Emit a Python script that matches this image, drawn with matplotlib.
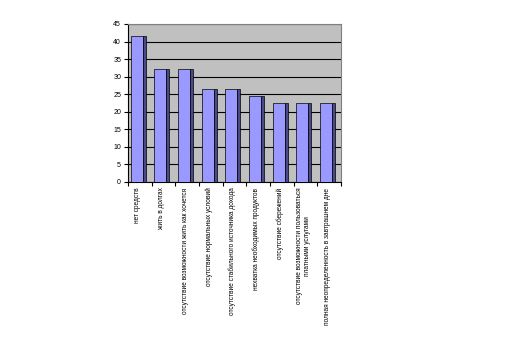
import matplotlib.pyplot as plt
import numpy as np

categories = [
  'нет средств',
  'жить в долгах',
  'отсутствие возможности жить как хочется',
  'отсутствие нормальных условий',
  'отсутствие стабильного источника дохода',
  'нехватка необходимых продуктов',
  'отсутствие сбережений',
  'отсутствие возможности пользоваться\nплатными услугами',
  'полная неопределенность в завтрашнем дне',
]
values = [41.5, 32.2, 32.2, 26.5, 26.5, 24.5, 22.5, 22.5, 22.5]
yticks = list(range(0, 50, 5))

plt.rcParams['font.family'] = ['Liberation Sans', 'DejaVu Sans']

fig = plt.figure(figsize=(5.17, 3.48), dpi=100)
ax = fig.add_axes([128/517, 1 - 182/348, 213/517, 158/348])
ax.set_facecolor('#c0c0c0')

x = np.arange(len(values))
# front face and dark side strip give the flat 3d look
ax.bar(x + 0.11, values, width=0.51, align='edge', color='#9999ff',
       edgecolor='black', linewidth=0.5, zorder=3)
ax.bar(x + 0.62, values, width=0.13, align='edge', color='#4a4a88',
       edgecolor='black', linewidth=0.5, zorder=3)

ax.set_xlim(0, len(values))
ax.set_ylim(0, 45)
ax.set_yticks(yticks)
ax.yaxis.grid(True, color='black', linewidth=0.8, zorder=1)
ax.set_axisbelow(True)

ax.set_xticks(np.arange(len(values) + 1))
ax.set_xticklabels([])
ax.set_xticks(x + 0.42, minor=True)
ax.set_xticklabels(categories, minor=True, rotation=90, fontsize=4.7,
                   va='top', ha='center', multialignment='center')
ax.tick_params(axis='x', which='minor', length=0, pad=4)
ax.tick_params(axis='x', which='major', length=3, width=0.8, direction='out')
ax.tick_params(axis='y', length=3, width=0.8, labelsize=5, pad=2)

for side in ('top', 'right'):
  ax.spines[side].set_color('#808080')
  ax.spines[side].set_linewidth(0.8)
for side in ('left', 'bottom'):
  ax.spines[side].set_color('black')
  ax.spines[side].set_linewidth(0.8)

fig.savefig('out.png', dpi=100)
